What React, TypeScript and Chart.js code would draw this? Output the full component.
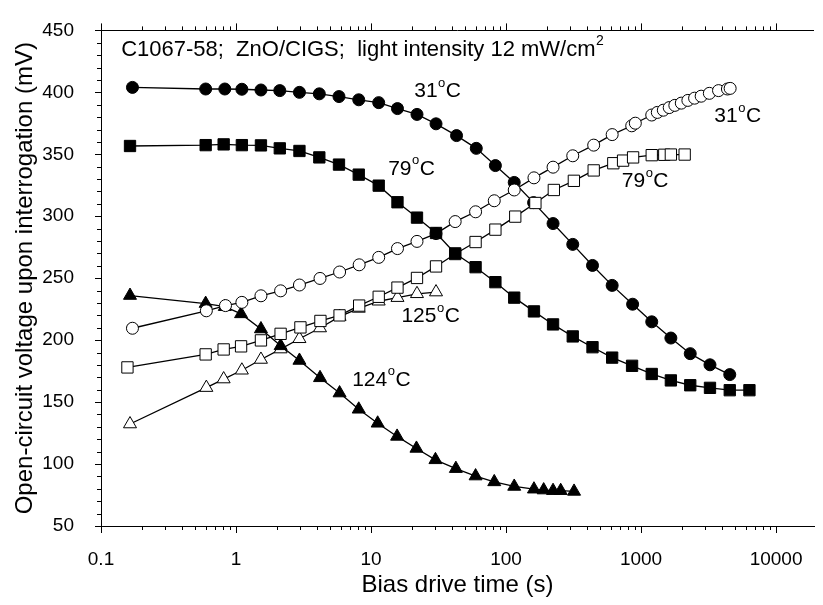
import React, { useEffect, useRef } from 'react';
import { Chart, registerables } from 'chart.js';

Chart.register(...registerables);

const FONT = '"Liberation Sans", Arial, Helvetica, sans-serif';

// Axis ticks
const xTickValues = [0.1, 1, 10, 100, 1000, 10000];
const xTickLabels = ['0.1', '1', '10', '100', '1000', '10000'];
const yTickValues = [50, 100, 150, 200, 250, 300, 350, 400, 450];

// 31 °C decay (filled circles)
const t31Down = [0.171, 0.596, 0.826, 1.105, 1.53, 2.11, 2.95, 4.14, 5.79, 8.11, 11.4, 15.7, 21.9, 30.3, 43, 60.2, 83.4, 115, 160, 223, 312, 437, 611, 866, 1200, 1663, 2314, 3240, 4540];
const v31Down = [404, 402.7, 402.7, 402.5, 401.9, 401.4, 400, 398.8, 396.6, 394, 391.7, 386.9, 382.2, 374.6, 365.1, 354.8, 340.9, 327.3, 311, 294.1, 277.3, 260.3, 244.2, 229, 214.8, 201.7, 189.1, 180.1, 172.2];

// 79 °C decay (filled squares)
const t79Down = [0.164, 0.596, 0.81, 1.105, 1.53, 2.11, 2.95, 4.14, 5.79, 8.11, 11.4, 15.7, 21.9, 30.3, 42, 59.5, 83.4, 115, 161, 223, 312, 437, 611, 858, 1200, 1663, 2314, 3240, 4540, 6350];
const v79Down = [356.7, 357.4, 358, 357.4, 357.2, 354.8, 352.7, 347.5, 341.7, 333.6, 324.7, 311.3, 298.9, 286.5, 270, 258.9, 246.8, 234.3, 223.2, 212.7, 203, 194.3, 185.9, 179.3, 172.7, 167.5, 163.6, 161.5, 159.6, 159.6];

// 31 °C recovery (open circles)
const t31Up = [0.171, 0.603, 0.836, 1.105, 1.53, 2.14, 2.95, 4.19, 5.85, 8.17, 11.4, 15.7, 21.9, 30.3, 42, 59.5, 81.8, 115, 161, 223, 312, 446, 611, 853, 907, 1200, 1320, 1462, 1617, 1780, 1987, 2223, 2492, 2788, 3206, 3750, 4365, 4570];
const v31Up = [209.6, 223.7, 227.9, 230.5, 235.8, 239.8, 244.5, 249.8, 255, 260.8, 266.8, 273.9, 279.7, 286, 295.7, 303.6, 312.5, 321.2, 331, 339.6, 348.8, 357.4, 365.9, 373, 375.1, 381.7, 383.8, 385.6, 387.7, 389.5, 391.3, 393.5, 395.3, 396.9, 399.2, 401.4, 402.7, 403.2];

// 79 °C recovery (open squares)
const t79Up = [0.157, 0.596, 0.81, 1.09, 1.53, 2.14, 3.0, 4.22, 5.85, 8.17, 11.4, 15.7, 21.9, 30.3, 42, 59.5, 83.4, 117, 165, 226, 318, 446, 623, 736, 873, 1200, 1486, 1663, 2104];
const v79Up = [178, 188.5, 192.5, 195, 199.8, 205.1, 210.3, 215.5, 220, 227.9, 235, 242.4, 250.2, 259.5, 269.5, 279.2, 289.2, 299.7, 310.7, 321.2, 328.6, 337, 342.8, 344.9, 347.5, 349.3, 349.6, 349.8, 349.8];

// 124 °C decay (filled triangles)
const t124Down = [0.164, 0.596, 0.826, 1.09, 1.53, 2.14, 2.95, 4.19, 5.85, 8.11, 11.2, 15.6, 21.7, 30, 42.5, 59.5, 81.8, 115, 161, 190, 223, 254, 319];
const v124Down = [236, 229.5, 227, 221.2, 209, 195.4, 183.6, 169.6, 157.3, 144.2, 132.9, 122.3, 112.6, 103.4, 96.3, 90.3, 85.6, 81.9, 79.7, 79, 78.5, 78.5, 77.9];

// 125 °C recovery (open triangles)
const t125Up = [0.164, 0.603, 0.81, 1.105, 1.53, 2.14, 2.95, 4.19, 5.85, 8.11, 11.4, 15.7, 21.9, 30.3];
const v125Up = [132.3, 161.7, 168.6, 175.7, 184.4, 192.8, 201.1, 209.8, 219, 225.6, 231.4, 234.3, 237.4, 238.8];

// Text annotations (anchored in data units: left edge, vertical middle)
const annotations = [
  { base: 'C1067-58;  ZnO/CIGS;  light intensity 12 mW/cm', sup: '2', tail: '', x: 0.141, y: 434.4, size: 22 },
  { base: '31', sup: 'o', tail: 'C', x: 20.9, y: 400.6, size: 21 },
  { base: '79', sup: 'o', tail: 'C', x: 13.4, y: 338.3, size: 21 },
  { base: '31', sup: 'o', tail: 'C', x: 3490, y: 380.9, size: 21 },
  { base: '79', sup: 'o', tail: 'C', x: 720, y: 328, size: 21 },
  { base: '125', sup: 'o', tail: 'C', x: 16.8, y: 219.3, size: 21 },
  { base: '124', sup: 'o', tail: 'C', x: 7.25, y: 168, size: 21 },
];

const zip = (t: number[], v: number[]) => t.map((x, i) => ({ x, y: v[i] }));

const overlayPlugin = {
  id: 'overlay',
  afterDraw(chart: any) {
    const { ctx, chartArea: ca, scales } = chart;
    const xs = scales.x;
    const ys = scales.y;
    ctx.save();
    ctx.strokeStyle = '#000';
    ctx.lineWidth = 1;
    ctx.beginPath();
    ctx.moveTo(ca.left, Math.round(ca.top) + 0.5);
    ctx.lineTo(ca.right, Math.round(ca.top) + 0.5);
    ctx.stroke();
    ctx.beginPath();
    for (let e = -1; e <= 4; e++) {
      for (let m = 1; m <= 9; m++) {
        const v = m * Math.pow(10, e);
        if (v < xs.min - 1e-9 || v > xs.max) continue;
        const px = Math.round(xs.getPixelForValue(v)) + 0.5;
        const len = m === 1 ? 7 : 4;
        ctx.moveTo(px, ca.bottom);
        ctx.lineTo(px, ca.bottom + len);
        ctx.moveTo(px, ca.top);
        ctx.lineTo(px, ca.top - len);
      }
    }
    for (let v = 50; v <= 450; v += 10) {
      const py = Math.round(ys.getPixelForValue(v)) + 0.5;
      const len = v % 50 === 0 ? 6 : 4;
      ctx.moveTo(ca.left, py);
      ctx.lineTo(ca.left - len, py);
    }
    ctx.stroke();

    ctx.fillStyle = '#000';
    ctx.textBaseline = 'middle';
    ctx.textAlign = 'left';
    annotations.forEach((a) => {
      const size = a.size;
      let x = xs.getPixelForValue(a.x);
      const y = ys.getPixelForValue(a.y);
      ctx.font = `${size}px ${FONT}`;
      ctx.fillText(a.base, x, y);
      x += ctx.measureText(a.base).width;
      ctx.font = `${Math.round(size * 0.62)}px ${FONT}`;
      ctx.fillText(a.sup, x + 0.5, y - size * 0.38);
      x += ctx.measureText(a.sup).width + 1;
      ctx.font = `${size}px ${FONT}`;
      if (a.tail) ctx.fillText(a.tail, x, y);
    });
    ctx.restore();
  },
};

export default function App() {
  const ref = useRef<HTMLCanvasElement | null>(null);
  useEffect(() => {
    document.body.style.margin = '0';
    const canvas = ref.current;
    if (!canvas) return;
    const lineCommon = {
      showLine: true,
      borderColor: '#000',
      borderWidth: 1.3,
      tension: 0,
      pointBorderColor: '#000',
      pointBorderWidth: 1,
    };
    const chart = new Chart(canvas, {
      type: 'scatter',
      data: {
        datasets: [
          { ...lineCommon, label: '79C down', data: zip(t79Down, v79Down), pointStyle: 'rect', pointRadius: 8, pointBackgroundColor: '#000', order: 0 },
          { ...lineCommon, label: '79C up', data: zip(t79Up, v79Up), pointStyle: 'rect', pointRadius: 8, pointBackgroundColor: '#fff', order: 1 },
          { ...lineCommon, label: '31C up', data: zip(t31Up, v31Up), pointStyle: 'circle', pointRadius: 6, pointBackgroundColor: '#fff', order: 2 },
          { ...lineCommon, label: '31C down', data: zip(t31Down, v31Down), pointStyle: 'circle', pointRadius: 6, pointBackgroundColor: '#000', order: 3 },
          { ...lineCommon, label: '124C down', data: zip(t124Down, v124Down), pointStyle: 'triangle', pointRadius: 7.5, pointBackgroundColor: '#000', order: 4 },
          { ...lineCommon, label: '125C up', data: zip(t125Up, v125Up), pointStyle: 'triangle', pointRadius: 7.5, pointBackgroundColor: '#fff', order: 5 },
        ],
      },
      options: {
        animation: false,
        responsive: false,
        maintainAspectRatio: false,
        layout: { padding: { top: 18, left: 0, right: 0, bottom: 0 } },
        plugins: { legend: { display: false }, tooltip: { enabled: false } },
        scales: {
          x: {
            type: 'logarithmic',
            position: 'bottom',
            min: 0.1,
            max: 19100,
            grid: { display: false },
            border: { display: true, color: '#000', width: 1 },
            afterBuildTicks: (s: any) => { s.ticks = xTickValues.map((value) => ({ value })); },
            afterFit: (s: any) => { s.height = 79; },
            ticks: {
              autoSkip: false,
              maxRotation: 0,
              color: '#000',
              padding: 14,
              font: { family: FONT, size: 19 },
              callback: (_v: any, i: number) => xTickLabels[i],
            },
            title: {
              display: true,
              text: 'Bias drive time (s)',
              color: '#000',
              font: { family: FONT, size: 24 },
              padding: { top: 0, bottom: 5 },
            },
          },
          y: {
            type: 'linear',
            min: 50,
            max: 450,
            grid: { display: false },
            border: { display: true, color: '#000', width: 1 },
            afterBuildTicks: (s: any) => { s.ticks = yTickValues.map((value) => ({ value })); },
            afterFit: (s: any) => { s.width = 101; },
            ticks: {
              color: '#000',
              padding: 19,
              font: { family: FONT, size: 19 },
            },
            title: {
              display: true,
              text: 'Open-circuit voltage upon interrogation (mV)',
              color: '#000',
              font: { family: FONT, size: 24 },
              padding: { top: 11, bottom: 0 },
            },
          },
        },
      },
      plugins: [overlayPlugin],
    });
    return () => chart.destroy();
  }, []);
  return (
    <div style={{ width: 823, height: 605 }}>
      <canvas ref={ref} width={823} height={605} style={{ display: 'block' }} />
    </div>
  );
}
